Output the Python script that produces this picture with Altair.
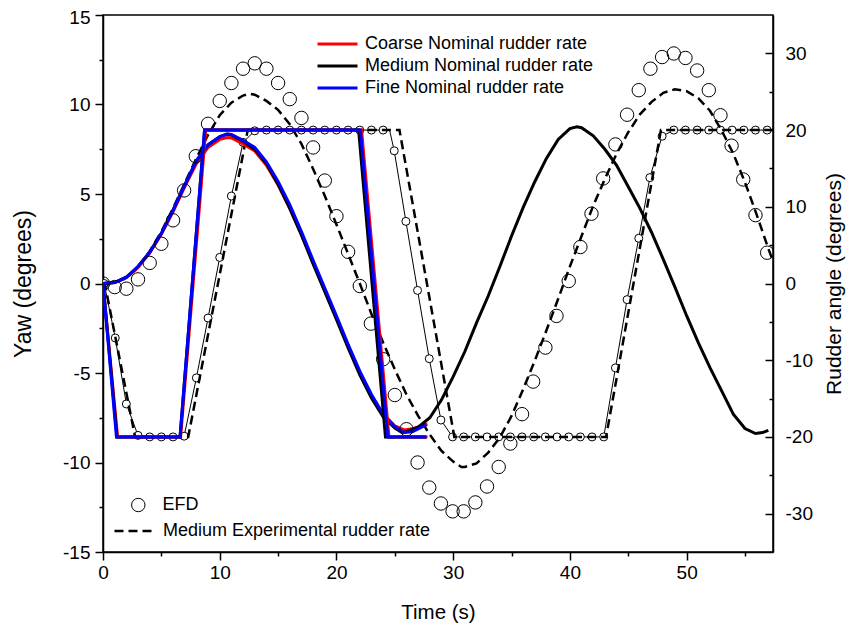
import altair as alt
import pandas as pd

FONT = "Liberation Sans"
COARSE = "Coarse Nominal rudder rate"
MEDIUM = "Medium Nominal rudder rate"
FINE = "Fine Nominal rudder rate"
EXP = "Medium Experimental rudder rate"
EFD = "EFD"

# ---------------- yaw (left axis) ----------------
fine_yaw_t = [0, 1, 2, 3, 4, 5, 6, 7, 8, 9, 10, 10.7, 11, 12, 13, 14, 15, 16, 17, 18, 19, 20, 21, 22, 23, 24, 25, 25.8, 26.5, 27, 27.7]
fine_yaw = [0, 0.05, 0.35, 0.95, 1.75, 2.8, 4.1, 5.5, 6.85, 7.75, 8.2, 8.35, 8.33, 8.0, 7.6, 6.8, 5.7, 4.4, 2.9, 1.3, -0.25, -1.8, -3.4, -4.9, -6.2, -7.3, -8.0, -8.32, -8.28, -8.12, -7.9]

coarse_yaw_t = [0, 1, 2, 3, 4, 5, 6, 7, 8, 9, 10, 10.7, 11, 12, 13, 14, 15, 16, 17, 18, 19, 20, 21, 22, 23, 24, 25, 25.8, 26.5, 27, 27.8]
coarse_yaw = [0, 0.05, 0.33, 0.9, 1.7, 2.75, 4.0, 5.4, 6.7, 7.6, 8.05, 8.15, 8.13, 7.8, 7.4, 6.6, 5.5, 4.2, 2.75, 1.15, -0.4, -1.95, -3.5, -4.95, -6.25, -7.3, -7.95, -8.18, -8.12, -8.02, -7.85]

medium_yaw_t = [0, 1, 2, 3, 4, 5, 6, 7, 8, 9, 10, 10.6, 11, 12, 13, 14, 15, 16, 17, 18, 19, 20, 21, 22, 23, 24, 25, 25.6,
                26, 27, 28, 29, 30, 31, 32, 33, 34, 35, 36, 37, 38, 39, 40, 40.6, 41, 42, 43, 44, 45, 46, 47, 48, 49, 50,
                51, 52, 53, 54, 55, 55.9, 56.5, 57]
medium_yaw = [0, 0.05, 0.35, 0.95, 1.75, 2.8, 4.1, 5.5, 6.85, 7.75, 8.2, 8.35, 8.3, 7.95, 7.5, 6.7, 5.55, 4.2, 2.7, 1.1, -0.45, -2.0, -3.6, -5.1, -6.4, -7.45, -8.08, -8.32,
              -8.28, -8.03, -7.5, -6.5, -5.2, -3.8, -2.2, -0.7, 0.95, 2.65, 4.25, 5.7, 7.0, 8.05, 8.65, 8.76, 8.7, 8.25, 7.5, 6.6, 5.4, 4.2, 2.85, 1.35, -0.2, -1.8,
              -3.3, -4.7, -6.0, -7.3, -8.1, -8.38, -8.33, -8.2]

exp_yaw_t = [0, 1, 2, 3, 4, 5, 6, 7, 8, 9, 10, 11, 12, 12.6, 13, 14, 15, 16, 17, 18, 19, 20, 21, 22, 23, 24, 25, 26, 27, 28, 29, 30, 30.7,
             31, 32, 33, 34, 35, 36, 37, 38, 39, 40, 41, 42, 43, 44, 45, 46, 47, 48, 49, 50, 51, 52, 53, 54, 55, 56, 57, 57.4]
exp_yaw = [0, 0.05, 0.3, 0.9, 1.8, 2.9, 4.2, 5.6, 7.0, 8.3, 9.4, 10.1, 10.5, 10.6, 10.55, 10.2, 9.7, 8.9, 7.8, 6.4, 4.9, 3.3, 1.65, 0.0, -1.7, -3.3, -4.8, -6.2, -7.4, -8.45, -9.35, -9.95, -10.25,
           -10.25, -10.05, -9.45, -8.6, -7.4, -5.9, -4.3, -2.6, -0.85, 0.95, 2.65, 4.35, 5.85, 7.25, 8.45, 9.45, 10.15, 10.65, 10.85, 10.75, 10.35, 9.65, 8.55, 7.25, 5.65, 3.85, 1.95, 1.25]

efd_yaw_t = [0, 1, 2, 3, 4, 5, 6, 6.95, 7.95, 9, 10, 11, 12, 13, 14, 15, 16, 17, 18, 19, 20, 21, 22, 22.95, 24, 25, 26,
             26.95, 27.95, 28.95, 29.95, 30.9, 31.9, 32.9, 33.9, 34.9, 35.9, 36.85, 37.9, 38.85, 39.9, 40.9, 41.85, 42.85,
             43.9, 44.9, 45.9, 46.9, 47.9, 48.9, 49.9, 50.9, 51.9, 52.9, 53.85, 54.85, 55.9, 56.9]
efd_yaw = [0, -0.2, -0.29, 0.23, 1.15, 2.22, 3.53, 5.2, 7.11, 8.92, 10.2, 11.2, 12.0, 12.3, 12.0, 11.2, 10.3, 9.25, 7.6, 5.75, 3.76, 1.77, -0.14, -2.24, -4.23, -6.23, -8.14,
           -10.0, -11.4, -12.29, -12.73, -12.73, -12.23, -11.34, -10.25, -8.94, -7.3, -5.48, -3.58, -1.81, 0.14, 2.04, 3.9, 5.87,
           7.77, 9.43, 10.8, 12.0, 12.65, 12.85, 12.6, 11.9, 10.8, 9.4, 7.7, 5.81, 3.82, 1.72]

# ---------------- rudder (right axis) ----------------
coarse_rud_t = [0, 1.25, 6.65, 8.8, 22.15, 24.5, 27.8]
coarse_rud = [0, -20, -20, 20, 20, -20, -20]
medium_rud_t = [0, 1.2, 6.6, 8.7, 21.9, 24.2, 27.7]
medium_rud = [0, -20, -20, 20, 20, -20, -20]
fine_rud_t = [0, 1.15, 6.6, 8.7, 22.05, 24.4, 27.7]
fine_rud = [0, -20, -20, 20, 20, -20, -20]

exp_rud_t = [0, 0.15, 2.75, 7.3, 12.4, 25.4, 30.1, 43.1, 47.8, 57.4]
exp_rud = [0, 0, -20, -20, 20, 20, -20, -20, 20, 20]

efd_rud_t = [0.1, 1.05, 2, 3, 4, 5, 6, 6.95, 8, 9, 10, 11, 12, 13,
             14, 15, 16, 17, 18, 19, 20, 21, 22, 23, 24,
             24.95, 25.95, 26.95, 27.95, 28.95, 29.95,
             30.9, 31.9, 32.9, 33.9, 34.9, 35.9, 36.9, 37.9, 38.9, 39.9, 40.9, 41.9, 42.9,
             43.9, 44.9, 45.9, 46.85, 47.9,
             48.9, 49.9, 50.9, 51.9, 52.9, 53.9, 54.9, 55.9, 56.9]
efd_rud = [0, -7.1, -15.7, -19.8, -20, -20, -20, -19.9, -12.3, -4.5, 3.4, 11.4, 18.4, 19.9,
           20, 20, 20, 20, 20, 20, 20, 20, 20, 20, 20,
           17.3, 8.1, -0.9, -9.8, -17.8, -20,
           -20, -20, -20, -20, -20, -20, -20, -20, -20, -20, -20, -20, -20,
           -11, -2.1, 5.9, 13.8, 19.2,
           20, 20, 20, 20, 20, 20, 20, 20, 20]
# extra corner points of the thin EFD rudder line
efd_rud_corner_t = [24.55]
efd_rud_corner = [20]

x_ticks = [0, 5, 10, 15, 20, 25, 30, 35, 40, 45, 50, 55]
yaw_ticks = [-15, -12.5, -10, -7.5, -5, -2.5, 0, 2.5, 5, 7.5, 10, 12.5, 15]
rud_ticks = [-30, -25, -20, -15, -10, -5, 0, 5, 10, 15, 20, 25, 30]


def frame(t, v, name, col, key):
    return pd.DataFrame({"t": t, col: v, key: name})


def lab(step):
    return (f"datum.value % {step} === 0 ? (datum.value < 0 ? '-' + abs(datum.value) : '' + datum.value) : ''")


def minor_dash(step):
    return {"condition": {"test": f"datum.value % {step} !== 0", "value": [4, 30]}, "value": []}


x_enc = alt.X("t:Q", title="Time (s)",
              scale=alt.Scale(domain=[0, 57.4], nice=False, zero=False),
              axis=alt.Axis(values=x_ticks, labelExpr=lab(10), tickSize=8, tickDash=minor_dash(10),
                            labelPadding=3, titlePadding=20, titleFontSize=20.5,
                            labelFlush=False, labelOverlap=False))

yaw_enc = alt.Y("yaw:Q", title="Yaw (degrees)",
                scale=alt.Scale(domain=[-15, 15], nice=False, zero=False),
                axis=alt.Axis(orient="left", values=yaw_ticks, labelExpr=lab(5), tickSize=8,
                              tickDash=minor_dash(5), labelPadding=5, titlePadding=27.5, titleFontSize=23,
                              labelOffset={"condition": {"test": "datum.value === 15", "value": 2}, "value": 0},
                              labelFlush=False, labelOverlap=False))

rud_axis = alt.Axis(orient="right", values=rud_ticks, labelExpr=lab(10), tickSize={"expr": "-8"},
                    tickDash=minor_dash(10), labelPadding=20, titlePadding=11, titleAngle=270,
                    titleBaseline="top", titleFontSize=21, labelFlush=False, labelOverlap=False)
rud_scale = alt.Scale(domain=[-35, 35], nice=False, zero=False)
rud_enc = alt.Y("rud:Q", title="Rudder angle (degrees)", scale=rud_scale, axis=rud_axis)
rud_enc_noaxis = alt.Y("rud:Q", title="Rudder angle (degrees)", scale=rud_scale, axis=None)

color_scale = alt.Scale(domain=[COARSE, MEDIUM, FINE], range=["#ff0000", "#000000", "#0000ff"])
color_legend = alt.Legend(title=None, orient="none", legendX=213, legendY=18, symbolType="stroke",
                          symbolSize=1600, symbolStrokeWidth=3, clipHeight=22, rowPadding=0,
                          labelOffset=6, labelFontSize=18, labelFont=FONT, labelColor="black",
                          labelLimit=600, padding=0)
color_enc = alt.Color("nominal:N", scale=color_scale, legend=color_legend)

dash_enc = alt.StrokeDash("exp:N", scale=alt.Scale(domain=[EXP], range=[[9, 5]]),
                          legend=alt.Legend(title=None, orient="none", legendX=10, legendY=505,
                                            symbolType="stroke", symbolSize=1764, symbolStrokeWidth=2.5,
                                            symbolStrokeColor="black", clipHeight=22, labelOffset=5,
                                            labelFontSize=18, labelFont=FONT, labelColor="black",
                                            labelLimit=600, padding=0))

shape_enc = alt.Shape("efd:N", scale=alt.Scale(domain=[EFD], range=["circle"]),
                      legend=alt.Legend(title=None, orient="none", legendX=26.3, legendY=479,
                                        symbolSize=180, symbolStrokeWidth=1, symbolStrokeColor="black",
                                        symbolFillColor="white", clipHeight=22, labelOffset=15.3,
                                        labelFontSize=18, labelFont=FONT, labelColor="black",
                                        labelLimit=600, padding=0))

# ---- group A: EFD rudder + experimental-rate rudder (right axis) ----
efd_rud_line_df = pd.concat([frame(efd_rud_t, efd_rud, "r", "rud", "k"),
                             frame(efd_rud_corner_t, efd_rud_corner, "r", "rud", "k")]).sort_values("t")
efd_rud_line = alt.Chart(efd_rud_line_df).mark_line(color="black", strokeWidth=1, clip=True).encode(
    x=x_enc, y=rud_enc)
efd_rud_pts = alt.Chart(frame(efd_rud_t, efd_rud, "r", "rud", "k")).mark_point(
    shape="circle", filled=True, fill="white", stroke="black", strokeWidth=1, size=64, opacity=1, clip=True
).encode(x=x_enc, y=rud_enc)
exp_rud_line = alt.Chart(frame(exp_rud_t, exp_rud, EXP, "rud", "exp")).mark_line(
    color="black", strokeWidth=2.5, clip=True).encode(x=x_enc, y=rud_enc, strokeDash=dash_enc)
group_a = alt.layer(efd_rud_line, efd_rud_pts, exp_rud_line)

# ---- group B: yaw (left axis) ----
exp_yaw_line = alt.Chart(frame(exp_yaw_t, exp_yaw, EXP, "yaw", "exp")).mark_line(
    color="black", strokeWidth=2.5, clip=True).encode(x=x_enc, y=yaw_enc, strokeDash=dash_enc)
yaw_layers = []
for t, v, name in [(coarse_yaw_t, coarse_yaw, COARSE), (medium_yaw_t, medium_yaw, MEDIUM), (fine_yaw_t, fine_yaw, FINE)]:
    yaw_layers.append(alt.Chart(frame(t, v, name, "yaw", "nominal")).mark_line(strokeWidth=3, clip=True).encode(
        x=x_enc, y=yaw_enc, color=color_enc))
efd_yaw_pts = alt.Chart(frame(efd_yaw_t, efd_yaw, EFD, "yaw", "efd")).mark_point(
    filled=False, color="black", strokeWidth=1, size=180, opacity=1, clip=True
).encode(x=x_enc, y=yaw_enc, shape=shape_enc)
group_b = alt.layer(exp_yaw_line, *yaw_layers, efd_yaw_pts)

# ---- group C: nominal rudder (right scale, no axis) ----
rud_layers = []
for t, v, name in [(coarse_rud_t, coarse_rud, COARSE), (medium_rud_t, medium_rud, MEDIUM), (fine_rud_t, fine_rud, FINE)]:
    rud_layers.append(alt.Chart(frame(t, v, name, "rud", "nominal")).mark_line(strokeWidth=3, clip=True).encode(
        x=x_enc, y=rud_enc_noaxis, color=color_enc))
group_c = alt.layer(*rud_layers)

chart = alt.layer(group_a, group_b, group_c).resolve_scale(y="independent").properties(
    width=670, height=537,
    padding={"left": 95, "top": 7, "right": 75, "bottom": 71},
    autosize=alt.AutoSizeParams(type="none"),
    background="white",
).configure_axis(
    labelFont=FONT, titleFont=FONT, labelFontSize=19, titleFontSize=20.5, titleFontWeight="normal",
    labelColor="black", titleColor="black", domainColor="black", tickColor="black",
    domainWidth=1.5, tickWidth=1.5, grid=False,
).configure_view(stroke="black", strokeWidth=1.5)

chart.save("out.html", embed_options={"renderer": "svg", "actions": False})
